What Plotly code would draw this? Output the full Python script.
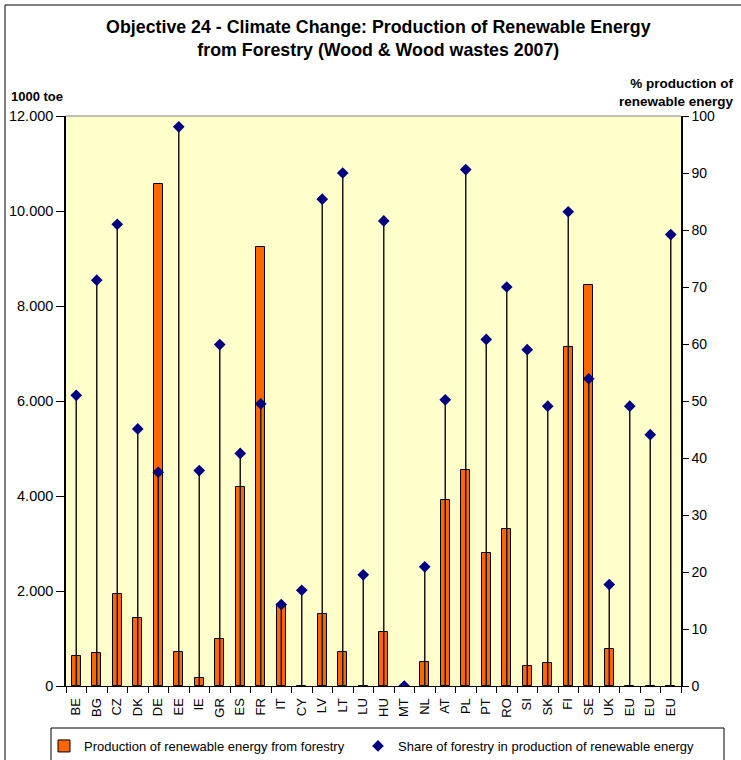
import plotly.graph_objects as go

# Countries (EU aggregates appear three times at the end)
countries = ["BE", "BG", "CZ", "DK", "DE", "EE", "IE", "GR", "ES", "FR",
             "IT", "CY", "LV", "LT", "LU", "HU", "MT", "NL", "AT", "PL",
             "PT", "RO", "SI", "SK", "FI", "SE", "UK", "EU", "EU", "EU"]

# Production of renewable energy from forestry, 1000 toe
production = [640, 700, 1940, 1430, 10570, 720, 160, 1000, 4200, 9240,
              1700, 10, 1520, 720, 10, 1140, 0, 510, 3920, 4540,
              2790, 3300, 420, 480, 7140, 8440, 780, 0, 0, 0]

# Share of forestry in production of renewable energy, %
share = [51.0, 71.2, 81.0, 45.1, 37.5, 98.1, 37.8, 59.9, 40.8, 49.5,
         14.3, 16.8, 85.4, 90.0, 19.5, 81.6, 0.0, 20.9, 50.2, 90.6,
         60.8, 70.0, 59.0, 49.1, 83.2, 53.9, 17.8, 49.1, 44.1, 79.2]

n = len(countries)
idx = list(range(n))

W, H = 741, 760
L, R, T, B = 66, 60, 116, 74
pw, ph = W - L - R, H - T - B


def px(x):
    return (x - L) / pw


def py(y):
    return (H - B - y) / ph


FONT = "Liberation Sans, Arial, sans-serif"

fig = go.Figure()

fig.add_trace(go.Bar(
    x=idx, y=production, name="Production of renewable energy from forestry",
    width=0.44, marker=dict(color="#FF6600", line=dict(color="#000000", width=1)),
    yaxis="y", legend="legend",
))

fig.add_trace(go.Scatter(
    x=idx, y=share, name="Share of forestry in production of renewable energy",
    mode="markers", yaxis="y2", legend="legend2",
    marker=dict(symbol="diamond", size=9, color="#000080"),
    error_y=dict(type="data", symmetric=False, array=[0] * n, arrayminus=share,
                 width=0, color="#1a1a1a", thickness=1.5),
))

legend_common = dict(orientation="h", xanchor="left", yref="container",
                     y=(H - 746) / H, yanchor="middle", xref="container",
                     borderwidth=0, bgcolor="rgba(0,0,0,0)",
                     font=dict(family=FONT, size=13))

fig.update_layout(
    width=W, height=H,
    margin=dict(l=L, r=R, t=T, b=B, autoexpand=False),
    paper_bgcolor="white", plot_bgcolor="#FFFFCC",
    separators=",.",
    font=dict(family=FONT, size=13, color="black"),
    title=dict(text="<b>Objective 24 - Climate Change: Production of Renewable Energy<br>from Forestry (Wood &amp; Wood wastes 2007)</b>",
               x=px(380), xanchor="center", y=1 - 33 / H, yanchor="top",
               font=dict(family=FONT, size=17.8)),
    bargap=0,
    showlegend=True,
    legend=dict(x=44 / W, **legend_common),
    legend2=dict(x=358 / W, **legend_common),
    xaxis=dict(range=[-0.5, n - 0.5], tickmode="array", tickvals=idx, ticktext=countries,
               tickangle=-90, ticks="", showline=True, linecolor="black", linewidth=1,
               showgrid=False, zeroline=False, automargin=False, ticklabelstandoff=6,
               minor=dict(tickmode="array", tickvals=[i - 0.5 for i in range(n + 1)],
                          ticks="outside", ticklen=6, tickcolor="black", showgrid=False),
               tickfont=dict(size=13)),
    yaxis=dict(range=[0, 12000], dtick=2000, tickformat=",d", ticks="outside", ticklen=8,
               tickcolor="black", showline=True, linecolor="black", linewidth=1.5,
               showgrid=False, zeroline=False, automargin=False, tickfont=dict(size=14.5)),
    yaxis2=dict(range=[0, 100], dtick=10, overlaying="y", side="right", ticks="outside",
                ticklen=6, tickcolor="black", showline=True, linecolor="black", linewidth=1.5,
                showgrid=False, zeroline=False, automargin=False, tickfont=dict(size=14)),
    shapes=[
        dict(type="line", xref="paper", yref="paper", x0=0, x1=1, y0=1, y1=1,
             line=dict(color="#808080", width=1)),
        dict(type="rect", xref="paper", yref="paper", x0=px(5), x1=px(746), y0=py(5), y1=py(770),
             line=dict(color="black", width=1), layer="below"),
        dict(type="rect", xref="paper", yref="paper", x0=px(51), x1=px(724), y0=py(728), y1=py(775),
             line=dict(color="black", width=1), fillcolor="white", layer="below"),
    ],
    annotations=[
        dict(text="<b>1000 toe</b>", xref="paper", yref="paper", x=px(9), y=py(97),
             xanchor="left", yanchor="middle", showarrow=False, font=dict(family=FONT, size=13)),
        dict(text="<b>% production of<br>renewable energy</b>", xref="paper", yref="paper",
             x=px(736), y=py(92), xanchor="right", yanchor="middle", align="right",
             showarrow=False, font=dict(family=FONT, size=13.5)),
    ],
)

fig.write_html("out.html")
